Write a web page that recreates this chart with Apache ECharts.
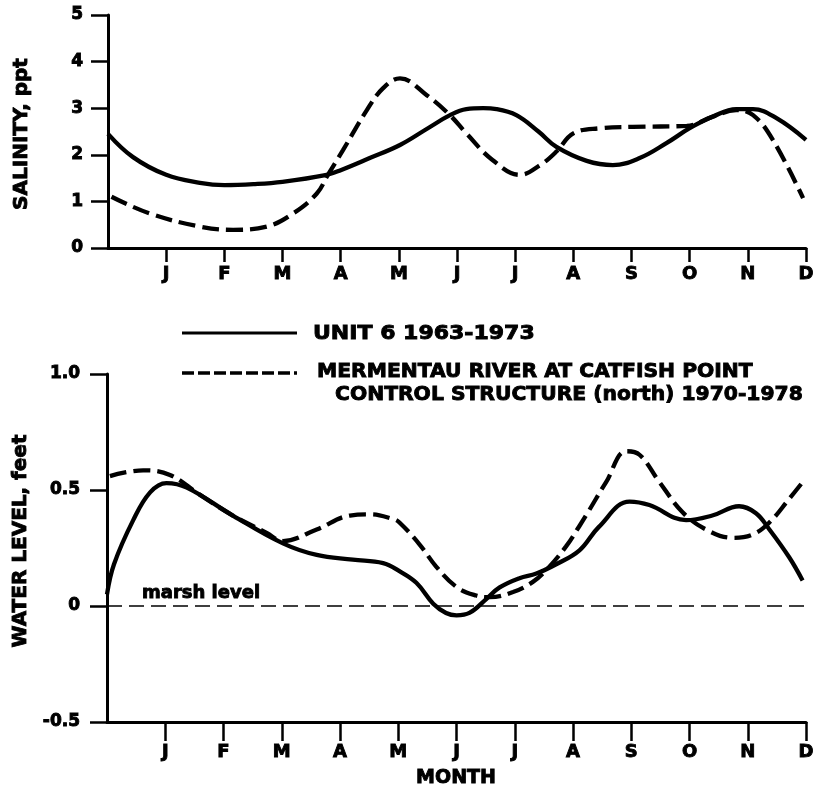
<!DOCTYPE html>
<html>
<head>
<meta charset="utf-8">
<script src="https://cdn.jsdelivr.net/npm/echarts@6/dist/echarts.min.js"></script>
<style>
  html, body { margin: 0; padding: 0; background: #fff; }
  #chart { width: 817px; height: 789px; }
</style>
</head>
<body>
<div id="chart"></div>
<script>
// Month letters placed at month ends 1..12 (0 is the start of the record year)
const monthLabels = ['', 'J', 'F', 'M', 'A', 'M', 'J', 'J', 'A', 'S', 'O', 'N', 'D'];
const monthTicks = [1, 2, 3, 4, 5, 6, 7, 8, 9, 10, 11, 12];

const salinityTicks = [0, 1, 2, 3, 4, 5];
const waterTickLabels = { '-0.5': '-0.5', '0': '0', '0.5': '0.5', '1': '1.0' };

// Mean salinity (ppt) by month position
const unit6Salinity = [
  [0, 2.45], [0.43, 1.95], [1, 1.57], [1.58, 1.40], [2, 1.35], [2.5, 1.37], [3, 1.42],
  [3.76, 1.57], [4, 1.67], [4.5, 1.93], [5.02, 2.21], [5.5, 2.57], [5.88, 2.85],
  [6.16, 2.98], [6.45, 3.0], [6.68, 2.98], [7.02, 2.85], [7.4, 2.5], [7.71, 2.17],
  [8.23, 1.87], [8.68, 1.78], [9.14, 1.93], [9.6, 2.25], [10, 2.57], [10.4, 2.82],
  [10.8, 2.98], [11.09, 2.98], [11.5, 2.78], [12, 2.32]
];
const catfishSalinity = [
  [0.06, 1.10], [0.72, 0.74], [1.58, 0.46], [2.15, 0.39], [2.73, 0.46], [3.18, 0.74],
  [3.59, 1.17], [3.78, 1.57], [4.04, 2.10], [4.45, 2.96], [4.73, 3.43], [5.02, 3.64],
  [5.48, 3.28], [5.88, 2.85], [6.16, 2.46], [6.61, 1.89], [7.08, 1.57], [7.43, 1.78],
  [7.71, 2.07], [8.0, 2.46], [8.46, 2.57], [9.02, 2.60], [9.95, 2.62], [10.4, 2.82],
  [10.8, 2.96], [11.09, 2.85], [11.43, 2.32], [11.95, 1.07]
];

// Mean water level (feet, relative to marsh level) by month position
const unit6Water = [
  [0, 0.05], [0.12, 0.18], [0.45, 0.37], [0.74, 0.49], [1.02, 0.53], [1.37, 0.51],
  [2.16, 0.39], [3.02, 0.27], [3.6, 0.22], [4.22, 0.20], [4.74, 0.185], [5.02, 0.15],
  [5.31, 0.10], [5.6, 0.01], [5.82, -0.03], [6.0, -0.04], [6.22, -0.03], [6.51, 0.03],
  [6.74, 0.08], [7.08, 0.12], [7.37, 0.14], [7.71, 0.18], [8.11, 0.24], [8.44, 0.34],
  [8.97, 0.45], [9.31, 0.435], [9.94, 0.37], [10.39, 0.39], [10.85, 0.43], [11.14, 0.40],
  [11.37, 0.33], [11.71, 0.21], [11.94, 0.11]
];
const catfishWater = [
  [0.05, 0.56], [0.62, 0.585], [1.08, 0.565], [1.59, 0.48], [2.16, 0.39], [2.74, 0.315],
  [3.02, 0.28], [3.6, 0.33], [4.17, 0.39], [4.51, 0.395], [4.91, 0.375], [5.02, 0.36],
  [5.37, 0.264], [5.65, 0.17], [6.0, 0.082], [6.34, 0.045], [6.57, 0.038], [6.97, 0.06],
  [7.31, 0.104], [7.54, 0.155], [7.88, 0.257], [8.11, 0.345], [8.22, 0.389], [8.57, 0.535],
  [8.91, 0.667], [9.14, 0.652], [9.48, 0.535], [9.88, 0.404], [10.28, 0.33], [10.74, 0.294],
  [11.08, 0.308], [11.37, 0.36], [11.71, 0.462], [11.97, 0.543]
];

const marshLevel = 0;

const legendUnit6 = 'UNIT 6 1963-1973';
const legendCatfish1 = 'MERMENTAU RIVER AT CATFISH POINT';
const legendCatfish2 = 'CONTROL STRUCTURE (north) 1970-1978';
const salinityTitle = 'SALINITY, ppt';
const waterTitle = 'WATER LEVEL, feet';
const monthTitle = 'MONTH';
const marshLabel = 'marsh level';

const INK = '#000';
const FONT = 'DejaVu Sans';
// a thin outline in the ink colour gives the heavy lettering
const heavyText = { textBorderColor: INK, textBorderWidth: 0.9 };
const heavyGraphic = { stroke: INK, lineWidth: 0.9 };

const chart = echarts.init(document.getElementById('chart'), null, { renderer: 'canvas' });

function xAxisFor(gridIndex, tickLen, labelMargin) {
  return {
    type: 'value', gridIndex, min: 0, max: 12, interval: 1,
    axisLine: { show: true, onZero: false, lineStyle: { color: INK, width: 3 } },
    axisTick: { show: true, customValues: monthTicks, length: tickLen, lineStyle: { color: INK, width: 2.5 } },
    axisLabel: Object.assign({
      customValues: monthTicks, margin: labelMargin,
      color: INK, fontFamily: FONT, fontWeight: 'bold', fontSize: 18,
      formatter: v => monthLabels[Math.round(v)]
    }, heavyText),
    splitLine: { show: false }
  };
}

function yAxisFor(gridIndex, min, max, interval, fmt, margin) {
  return {
    type: 'value', gridIndex, min, max, interval,
    axisLine: { show: true, onZero: false, lineStyle: { color: INK, width: 3 } },
    axisTick: { show: true, length: 17, lineStyle: { color: INK, width: 2.5 } },
    axisLabel: Object.assign({ margin, color: INK, fontFamily: FONT, fontWeight: 'bold', fontSize: 17, formatter: fmt }, heavyText),
    splitLine: { show: false }
  };
}

function curve(name, data, xi, yi, dashed) {
  return {
    name, type: 'line', xAxisIndex: xi, yAxisIndex: yi, data,
    smooth: 0.4, showSymbol: false, symbol: 'none',
    lineStyle: { color: INK, width: 4.3, type: dashed ? [17, 7] : 'solid', cap: 'butt' },
    z: 3
  };
}

const option = {
  backgroundColor: '#fff',
  animation: false,
  grid: [
    { left: 108, top: 15, width: 698, height: 233 },
    { left: 107, top: 374, width: 700, height: 348 }
  ],
  xAxis: [xAxisFor(0, 14, 17), xAxisFor(1, 19, 21)],
  yAxis: [
    yAxisFor(0, 0, 5, 1, v => String(v), 25),
    yAxisFor(1, -0.5, 1.0, 0.5, v => waterTickLabels[String(Math.round(v * 10) / 10)] ?? String(v), 27)
  ],
  series: [
    curve(legendUnit6, unit6Salinity, 0, 0, false),
    curve(legendCatfish1, catfishSalinity, 0, 0, true),
    curve(legendUnit6, unit6Water, 1, 1, false),
    Object.assign(curve(legendCatfish1, catfishWater, 1, 1, true), {
      markLine: {
        silent: true, symbol: ['none', 'none'], animation: false,
        lineStyle: { color: INK, width: 1.6, type: [15, 7] },
        label: Object.assign({
          show: true, position: 'insideStartTop', distance: [35, 4],
          formatter: marshLabel, color: INK, fontFamily: FONT, fontWeight: 'bold', fontSize: 18
        }, heavyText),
        data: [{ yAxis: marshLevel }]
      }
    })
  ],
  graphic: [
    { type: 'text', x: 22, y: 134, rotation: Math.PI / 2,
      style: Object.assign({ text: salinityTitle, fill: INK, fontFamily: FONT, fontWeight: 'bold', fontSize: 20, align: 'center', verticalAlign: 'middle' }, heavyGraphic) },
    { type: 'text', x: 21, y: 541, rotation: Math.PI / 2,
      style: Object.assign({ text: waterTitle, fill: INK, fontFamily: FONT, fontWeight: 'bold', fontSize: 20, align: 'center', verticalAlign: 'middle' }, heavyGraphic) },
    { type: 'text', x: 456, y: 778,
      style: Object.assign({ text: monthTitle, fill: INK, fontFamily: FONT, fontWeight: 'bold', fontSize: 19, align: 'center', verticalAlign: 'middle' }, heavyGraphic) },
    // legend keys
    { type: 'line', shape: { x1: 182, y1: 333, x2: 297, y2: 333 }, style: { stroke: INK, lineWidth: 3 } },
    { type: 'line', shape: { x1: 182, y1: 373, x2: 297, y2: 373 }, style: { stroke: INK, lineWidth: 3.5, lineDash: [12, 4] } },
    { type: 'text', x: 313, y: 334, scaleX: 1.1,
      style: Object.assign({ text: legendUnit6, fill: INK, fontFamily: FONT, fontWeight: 'bold', fontSize: 20, align: 'left', verticalAlign: 'middle' }, heavyGraphic) },
    { type: 'text', x: 317, y: 372, scaleX: 1.015,
      style: Object.assign({ text: legendCatfish1, fill: INK, fontFamily: FONT, fontWeight: 'bold', fontSize: 20, align: 'left', verticalAlign: 'middle' }, heavyGraphic) },
    { type: 'text', x: 335, y: 395, scaleX: 1.015,
      style: Object.assign({ text: legendCatfish2, fill: INK, fontFamily: FONT, fontWeight: 'bold', fontSize: 20, align: 'left', verticalAlign: 'middle' }, heavyGraphic) }
  ]
};

chart.setOption(option);
</script>
</body>
</html>
